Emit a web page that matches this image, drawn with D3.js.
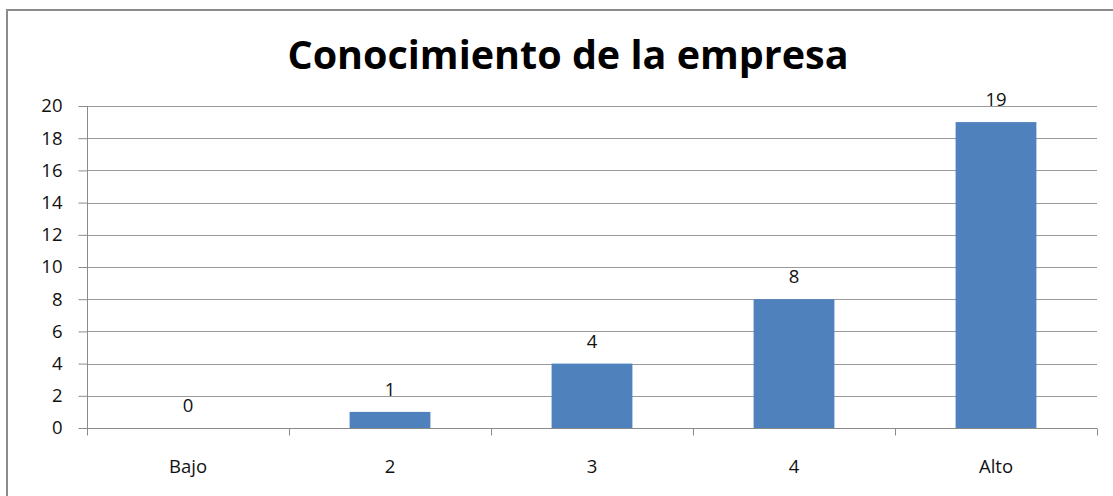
<!DOCTYPE html>
<html>
<head>
<meta charset="utf-8">
<script src="https://cdn.jsdelivr.net/npm/d3@7"></script>
<style>
  html, body { margin: 0; padding: 0; background: #fff; }
  svg { display: block; }
  text { font-family: "Open Sans", "Noto Sans", sans-serif; fill: #111; }
</style>
</head>
<body>
<svg id="chart" width="1113" height="496"></svg>
<script>
// Chart data
const categories = ["Bajo", "2", "3", "4", "Alto"];
const values = [0, 1, 4, 8, 19];
const yTicks = [0, 2, 4, 6, 8, 10, 12, 14, 16, 18, 20];
const titleText = "Conocimiento de la empresa";

const svg = d3.select("#chart");
const margin = { left: 87, right: 16, top: 106, bottom: 68 };
const W = 1113, H = 496;
const labelSize = "18.5px";

// Outer chart frame
svg.append("rect")
  .attr("x", 7).attr("y", 10)
  .attr("width", W + 20).attr("height", H + 20)
  .attr("fill", "#fff")
  .attr("stroke", "#8c8c8c").attr("stroke-width", 2);

const x = d3.scaleBand()
  .domain(categories)
  .range([margin.left, W - margin.right])
  .paddingInner(0.6)
  .paddingOuter(0.3);

const y = d3.scaleLinear()
  .domain([0, 20])
  .range([H - margin.bottom, margin.top]);

// Horizontal gridlines
svg.append("g")
  .selectAll("line")
  .data(yTicks.filter(d => d > 0))
  .join("line")
  .attr("x1", margin.left).attr("x2", W - margin.right)
  .attr("y1", d => Math.round(y(d)) + 0.5).attr("y2", d => Math.round(y(d)) + 0.5)
  .attr("stroke", "#9a9a9a").attr("stroke-width", 1);

// Bars
svg.append("g")
  .selectAll("rect")
  .data(values)
  .join("rect")
  .attr("x", (d, i) => x(categories[i]))
  .attr("width", x.bandwidth())
  .attr("y", d => y(d))
  .attr("height", d => y(0) - y(d))
  .attr("fill", "#4f81bd");

// Y axis
const yAxis = svg.append("g")
  .attr("transform", `translate(${margin.left + 0.5},0)`)
  .call(d3.axisLeft(y).tickValues(yTicks).tickSize(9).tickPadding(16));
yAxis.selectAll("path, line").attr("stroke", "#8a8a8a");
yAxis.select(".domain").attr("d", `M0,${y(20)}V${y(0)}`);
yAxis.selectAll("text")
  .style("font-family", '"Open Sans", "Noto Sans", sans-serif')
  .style("font-size", labelSize).attr("fill", "#111");

// X axis with category separators
const xAxisG = svg.append("g")
  .attr("transform", `translate(0,${Math.round(y(0)) + 0.5})`);
xAxisG.append("line")
  .attr("x1", margin.left).attr("x2", W - margin.right)
  .attr("stroke", "#8a8a8a");
const step = x.step();
const bounds = d3.range(categories.length + 1).map(i => x(categories[0]) - x.paddingOuter() * step + i * step);
xAxisG.selectAll("line.sep")
  .data(bounds)
  .join("line")
  .attr("class", "sep")
  .attr("x1", d => Math.round(d) + 0.5).attr("x2", d => Math.round(d) + 0.5)
  .attr("y1", 0).attr("y2", 7)
  .attr("stroke", "#8a8a8a");
xAxisG.selectAll("text")
  .data(categories)
  .join("text")
  .attr("x", d => x(d) + x.bandwidth() / 2)
  .attr("y", 44)
  .attr("text-anchor", "middle")
  .style("font-size", labelSize)
  .text(d => d);

// Value labels
svg.append("g")
  .selectAll("text")
  .data(values)
  .join("text")
  .attr("x", (d, i) => x(categories[i]) + x.bandwidth() / 2)
  .attr("y", d => y(d) - 16)
  .attr("text-anchor", "middle")
  .style("font-size", labelSize)
  .text(d => d);

// Title
svg.append("text")
  .attr("x", 568).attr("y", 69)
  .attr("text-anchor", "middle")
  .style("font-size", "39.5px").style("font-weight", "700")
  .style("fill", "#000")
  .text(titleText);
</script>
</body>
</html>
